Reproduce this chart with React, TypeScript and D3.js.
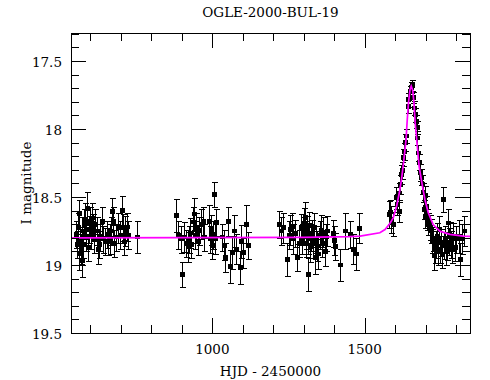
import React from "react";
import * as d3 from "d3";

// [HJD-2450000, I mag, error]
const season1: [number, number, number][] = [
  [552, 18.775, 0.10], [555, 18.85, 0.10], [559, 18.725, 0.11], [562, 18.62, 0.10],
  [562, 18.92, 0.12], [565, 18.81, 0.09], [569, 18.885, 0.11], [572, 18.75, 0.10],
  [572, 18.97, 0.12], [575, 18.85, 0.10], [579, 18.70, 0.11], [582, 18.665, 0.12],
  [585, 18.795, 0.10], [588, 18.585, 0.12], [592, 18.87, 0.10], [595, 18.74, 0.10],
  [598, 18.68, 0.11], [602, 18.78, 0.10], [605, 18.655, 0.11], [608, 18.725, 0.10],
  [611, 18.81, 0.10], [615, 18.70, 0.11], [621, 18.75, 0.10], [625, 18.885, 0.11],
  [628, 18.85, 0.10], [631, 18.795, 0.10], [638, 18.68, 0.11], [641, 18.81, 0.10],
  [648, 18.825, 0.10], [654, 18.775, 0.10], [658, 18.83, 0.10], [664, 18.81, 0.11],
  [667, 18.75, 0.10], [671, 18.605, 0.10], [674, 18.68, 0.11], [677, 18.84, 0.10],
  [684, 18.795, 0.10], [690, 18.725, 0.11], [697, 18.78, 0.10], [703, 18.60, 0.11],
  [707, 18.725, 0.10], [710, 18.83, 0.10], [713, 18.75, 0.11], [720, 18.72, 0.10],
  [723, 18.78, 0.10], [752, 18.795, 0.12],
];

const season2: [number, number, number][] = [
  [882, 18.635, 0.12], [888, 18.78, 0.10], [898, 18.81, 0.10], [901, 19.07, 0.09],
  [907, 18.795, 0.11], [914, 18.84, 0.10], [920, 18.865, 0.11], [924, 18.81, 0.10],
  [927, 18.765, 0.11], [930, 18.85, 0.10], [937, 18.685, 0.11], [940, 18.625, 0.12],
  [943, 18.78, 0.10], [947, 18.725, 0.11], [953, 18.825, 0.10], [956, 18.75, 0.10],
  [963, 18.70, 0.11], [970, 18.68, 0.11], [973, 18.795, 0.10], [989, 18.68, 0.12],
  [992, 18.81, 0.10], [996, 18.74, 0.11], [999, 18.855, 0.10], [1002, 18.78, 0.10],
  [1006, 18.48, 0.09], [1009, 18.81, 0.11], [1012, 18.685, 0.10], [1032, 18.795, 0.10],
  [1038, 18.855, 0.11], [1042, 18.945, 0.11], [1051, 18.68, 0.11], [1058, 19.01, 0.12],
  [1065, 18.91, 0.12], [1071, 18.75, 0.12], [1078, 18.885, 0.11], [1091, 19.02, 0.12],
  [1094, 18.825, 0.12], [1101, 18.91, 0.11], [1111, 18.70, 0.14], [1117, 18.855, 0.10],
];

const season3: [number, number, number][] = [
  [1219, 18.70, 0.10], [1226, 18.75, 0.10], [1232, 18.725, 0.11], [1245, 18.96, 0.12],
  [1252, 18.78, 0.10], [1255, 18.74, 0.11], [1262, 18.715, 0.10], [1265, 18.81, 0.11],
  [1271, 18.77, 0.10], [1278, 18.945, 0.10], [1285, 18.84, 0.10], [1291, 18.725, 0.10],
  [1294, 18.81, 0.11], [1298, 18.75, 0.10], [1301, 18.69, 0.11], [1304, 18.65, 0.11],
  [1307, 18.78, 0.10], [1307, 18.84, 0.10], [1311, 18.74, 0.10], [1314, 19.07, 0.12],
  [1314, 18.81, 0.11], [1317, 18.71, 0.10], [1321, 18.865, 0.11], [1324, 18.795, 0.10],
  [1327, 18.77, 0.10], [1330, 18.84, 0.11], [1334, 18.725, 0.11], [1337, 18.945, 0.12],
  [1340, 18.81, 0.10], [1344, 18.86, 0.11], [1347, 18.92, 0.11], [1353, 18.78, 0.10],
  [1357, 18.745, 0.11], [1360, 18.84, 0.10], [1363, 18.76, 0.11], [1370, 18.90, 0.11],
  [1373, 18.795, 0.10], [1376, 18.75, 0.11], [1396, 18.77, 0.10], [1399, 18.82, 0.11],
  [1402, 18.865, 0.10], [1419, 19.00, 0.12], [1435, 18.75, 0.13], [1452, 18.775, 0.10],
  [1462, 18.885, 0.11], [1471, 18.92, 0.12], [1481, 18.73, 0.11],
];

const season4: [number, number, number][] = [
  [1580, 18.63, 0.10], [1583, 18.61, 0.09], [1586, 18.665, 0.10], [1593, 18.70, 0.09],
  [1603, 18.505, 0.08], [1606, 18.555, 0.08], [1612, 18.605, 0.08], [1612, 18.47, 0.07],
  [1616, 18.41, 0.07], [1619, 18.335, 0.07], [1622, 18.305, 0.06], [1626, 18.21, 0.06],
  [1629, 18.165, 0.06], [1632, 18.10, 0.06], [1635, 18.05, 0.05], [1642, 17.835, 0.05],
  [1642, 17.785, 0.05], [1648, 17.725, 0.04], [1652, 17.695, 0.04], [1655, 17.68, 0.04],
  [1658, 17.77, 0.04], [1662, 17.845, 0.05], [1665, 17.895, 0.05], [1668, 17.945, 0.05],
  [1671, 17.99, 0.05], [1671, 18.065, 0.05], [1675, 18.175, 0.06], [1678, 18.245, 0.06],
  [1681, 18.32, 0.06], [1684, 18.355, 0.06], [1688, 18.405, 0.07], [1691, 18.465, 0.07],
  [1694, 18.59, 0.07], [1698, 18.49, 0.07], [1698, 18.645, 0.08], [1701, 18.57, 0.08],
  [1704, 18.665, 0.08], [1708, 18.70, 0.08], [1714, 18.725, 0.09], [1717, 18.75, 0.09],
  [1721, 18.825, 0.09], [1724, 18.81, 0.09], [1727, 18.935, 0.10], [1730, 18.885, 0.10],
  [1734, 18.85, 0.10], [1737, 18.79, 0.10], [1740, 18.90, 0.10], [1744, 18.74, 0.10],
  [1747, 18.885, 0.10], [1750, 18.835, 0.10], [1753, 18.92, 0.10], [1757, 18.52, 0.09],
  [1760, 18.855, 0.10], [1763, 18.81, 0.10], [1766, 18.90, 0.10], [1770, 18.865, 0.10],
  [1773, 18.69, 0.10], [1776, 18.83, 0.10], [1780, 18.785, 0.10], [1783, 18.85, 0.10],
  [1786, 18.885, 0.10], [1789, 18.79, 0.10], [1796, 18.87, 0.10], [1799, 18.81, 0.10],
  [1809, 18.79, 0.12], [1812, 18.96, 0.12], [1819, 18.81, 0.11], [1825, 18.75, 0.11],
];

// model light curve
const modelHJD = [536, 1300, 1450, 1485, 1550, 1567, 1583, 1594, 1605, 1614, 1621, 1629, 1636,
  1640, 1644, 1649, 1653, 1658, 1662, 1666, 1673, 1679, 1688, 1698, 1709, 1725, 1747, 1780, 1824, 1846];
const modelMag = [18.80, 18.797, 18.792, 18.788, 18.763, 18.739, 18.695, 18.653, 18.568, 18.469,
  18.372, 18.225, 18.078, 17.931, 17.808, 17.711, 17.685, 17.716, 17.808, 17.955, 18.127, 18.274,
  18.396, 18.518, 18.616, 18.702, 18.751, 18.775, 18.788, 18.79];

const xMajor = [1000, 1500];
const xMinor = [600, 700, 800, 900, 1100, 1200, 1300, 1400, 1600, 1700, 1800];
const yMajor = [17.5, 18, 18.5, 19, 19.5];
const yMinor = [17.3, 17.4, 17.6, 17.7, 17.8, 17.9, 18.1, 18.2, 18.3, 18.4, 18.6, 18.7, 18.8, 18.9, 19.1, 19.2, 19.3, 19.4];

const title = "OGLE-2000-BUL-19";
const xTitle = "HJD - 2450000";
const yTitle = "I magnitude";

export default function App() {
  const W = 490, H = 380;
  const L = 71, R = 470, T = 33, B = 333;
  const x = d3.scaleLinear().domain([536, 1846]).range([L, R]);
  const y = d3.scaleLinear().domain([17.294, 19.5]).range([T, B]);
  const all = [...season1, ...season2, ...season3, ...season4];
  const line = d3.line<number>().x((d) => x(modelHJD[d])).y((d) => y(modelMag[d]));
  const modelPath = line(modelHJD.map((_, i) => i)) || "";
  const font = "'DejaVu Serif', serif";
  const majLen = 15, minLen = 8, cap = 3, ms = 4.6;
  const px = (v: number) => Math.round(v) + 0.5;

  return (
    <div style={{ position: "absolute", left: 0, top: 0 }}>
      <svg width={W} height={H} style={{ display: "block", background: "#fff" }}>
        <defs>
          <clipPath id="plotclip">
            <rect x={L} y={T} width={R - L} height={B - T} />
          </clipPath>
        </defs>
        <g clipPath="url(#plotclip)">
          {all.map(([t, m, e], i) => {
            const cx = px(x(t)), cy = y(m), y1 = px(y(m - e)), y2 = px(y(m + e));
            return (
              <g key={i} stroke="#000" strokeWidth={1} shapeRendering="crispEdges">
                <line x1={cx} x2={cx} y1={y1} y2={y2} />
                <line x1={cx - cap} x2={cx + cap} y1={y1} y2={y1} />
                <line x1={cx - cap} x2={cx + cap} y1={y2} y2={y2} />
                <rect x={cx - ms / 2} y={cy - ms / 2} width={ms} height={ms} fill="#000" stroke="none" />
              </g>
            );
          })}
          <path d={modelPath} fill="none" stroke="#ff00ff" strokeWidth={1.7} />
        </g>
        <g stroke="#000" strokeWidth={1} shapeRendering="crispEdges">
          <rect x={L + 0.5} y={T + 0.5} width={R - L} height={B - T} fill="none" />
          {xMajor.map((v) => (
            <g key={"xM" + v}>
              <line x1={px(x(v))} x2={px(x(v))} y1={B} y2={B - majLen} />
              <line x1={px(x(v))} x2={px(x(v))} y1={T} y2={T + majLen} />
            </g>
          ))}
          {xMinor.map((v) => (
            <g key={"xm" + v}>
              <line x1={px(x(v))} x2={px(x(v))} y1={B} y2={B - minLen} />
              <line x1={px(x(v))} x2={px(x(v))} y1={T} y2={T + minLen} />
            </g>
          ))}
          {yMajor.map((v) => (
            <g key={"yM" + v}>
              <line x1={L} x2={L + majLen} y1={px(y(v))} y2={px(y(v))} />
              <line x1={R} x2={R - majLen} y1={px(y(v))} y2={px(y(v))} />
            </g>
          ))}
          {yMinor.map((v) => (
            <g key={"ym" + v}>
              <line x1={L} x2={L + minLen} y1={px(y(v))} y2={px(y(v))} />
              <line x1={R} x2={R - minLen} y1={px(y(v))} y2={px(y(v))} />
            </g>
          ))}
        </g>
        <g fontFamily={font} fontSize={13.5} fill="#000">
          {xMajor.map((v) => (
            <text key={"xl" + v} x={x(v)} y={354} textAnchor="middle">{String(v)}</text>
          ))}
          {yMajor.map((v) => (
            <text key={"yl" + v} x={62} y={y(v) + 5.5} textAnchor="end">{String(v)}</text>
          ))}
          <text x={(L + R) / 2} y={17} textAnchor="middle">{title}</text>
          <text x={(L + R) / 2} y={376} textAnchor="middle">{xTitle}</text>
          <text transform={`translate(31,${(T + B) / 2}) rotate(-90)`} textAnchor="middle">{yTitle}</text>
        </g>
      </svg>
    </div>
  );
}
